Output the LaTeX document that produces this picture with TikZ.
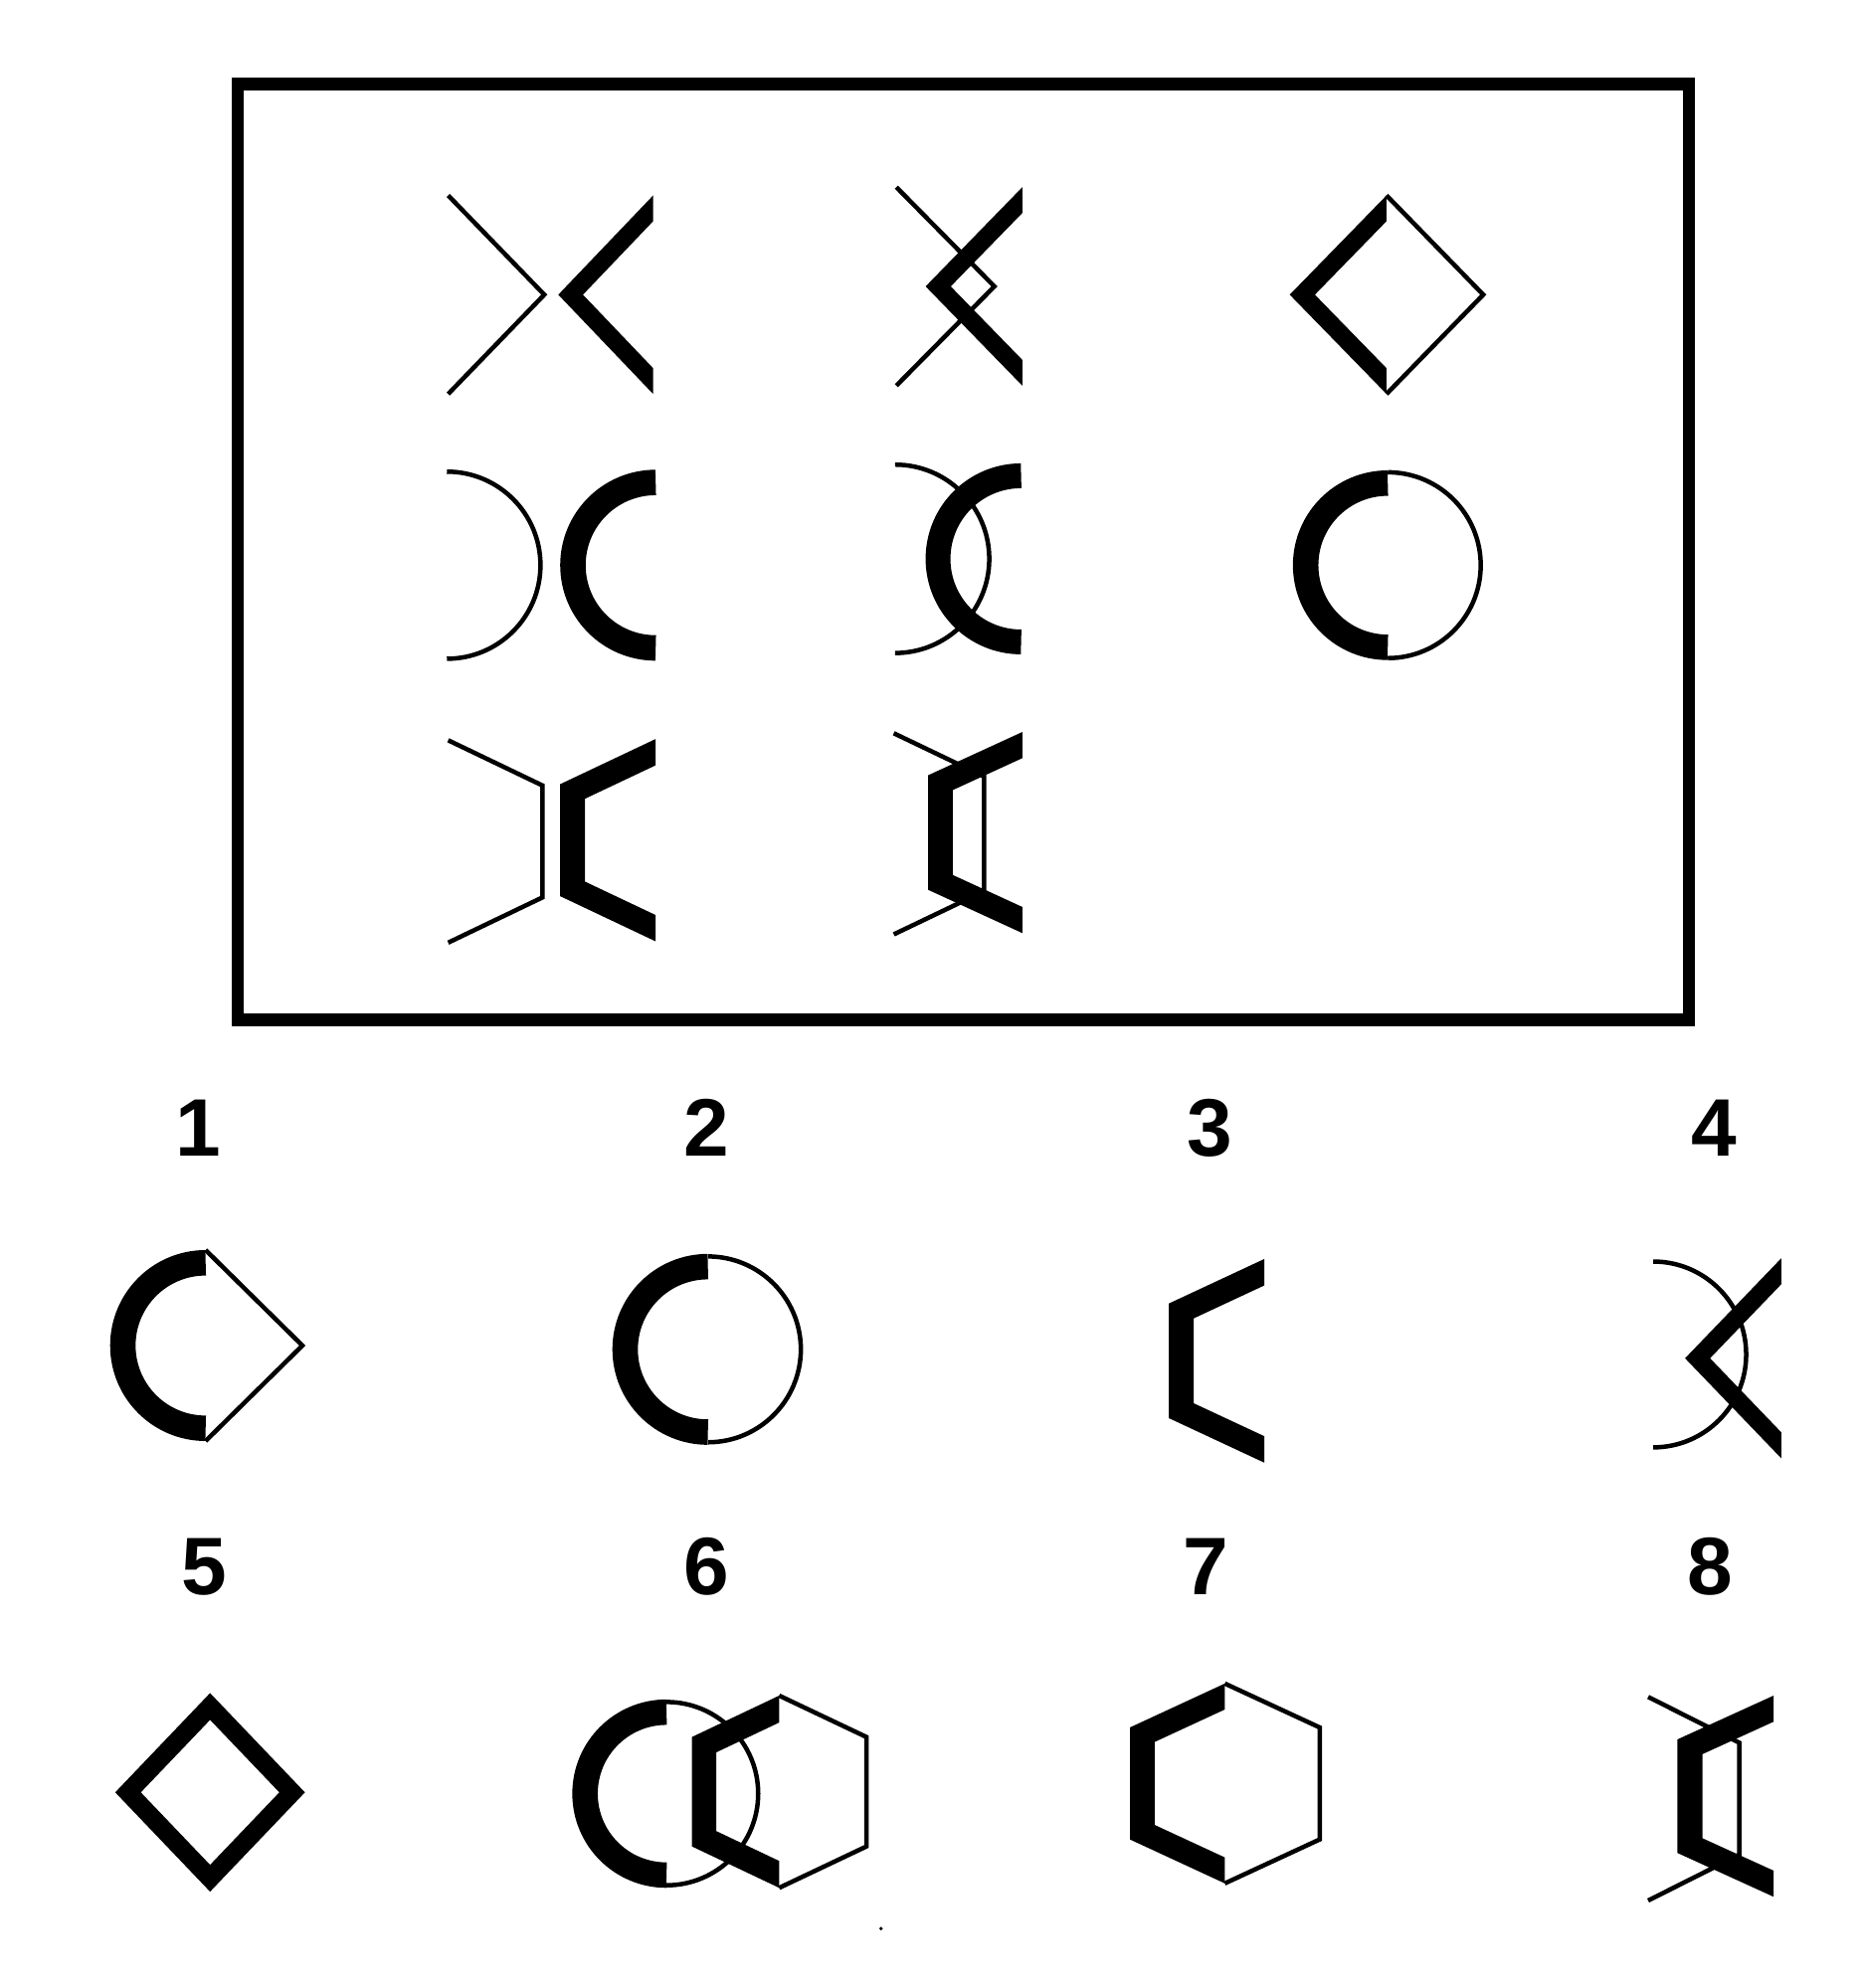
\documentclass[tikz,border=0pt]{standalone}
\usepackage{fontspec}
\setmainfont{Liberation Sans}
\newcommand\dmdband[5]{% cx cy a b k : left half band of a diamond
  \fill ({#1},{#2-#4}) -- ({#1-#3},{#2}) -- ({#1},{#2+#4}) --
     ({#1},{#2+#5*#4}) -- ({#1-#5*#3},{#2}) -- ({#1},{#2-#5*#4}) -- cycle;}
\newcommand\dmdthin[4]{% cx cy a b : right half of a diamond, thin
  \draw[fineline] ({#1},{#2-#4}) -- ({#1+#3},{#2}) -- ({#1},{#2+#4});}
\newcommand\cirband[4]{% cx cy R band : left half band of a circle
  \pgfmathsetmacro\rmid{#3-#4/2}\pgfmathsetmacro\lwid{#4*1.28}%
  \draw[line width=\lwid pt] ({#1},{#2+\rmid}) arc[start angle=90,end angle=270,radius=\rmid];}
\newcommand\cirthin[3]{% cx cy r : right half of a circle, thin
  \draw[fineline] ({#1},{#2-#3}) arc[start angle=-90,end angle=90,radius=#3];}
\newcommand\hexband[6]{% cx cy a h j k : left half band of a hexagon
  \fill ({#1},{#2-#4}) -- ({#1-#3},{#2-#5}) -- ({#1-#3},{#2+#5}) -- ({#1},{#2+#4}) --
   ({#1},{#2+#6*#4}) -- ({#1-#6*#3},{#2+#6*#5}) -- ({#1-#6*#3},{#2-#6*#5}) -- ({#1},{#2-#6*#4}) -- cycle;}
\newcommand\hexthin[5]{% cx cy a h j : right half of a hexagon, thin
  \draw[fineline] ({#1},{#2-#4}) -- ({#1+#3},{#2-#5}) -- ({#1+#3},{#2+#5}) -- ({#1},{#2+#4});}
\begin{document}
\begin{tikzpicture}[x=1.28pt,y=-1.28pt,
  fineline/.style={line width=4.5pt,line join=miter,miter limit=10},
  framebox/.style={line width=12.3pt},
  digit/.style={font=\fontsize{82}{82}\selectfont\bfseries,inner sep=0pt}]
\useasboundingbox[fill=white] (0,0) rectangle (1462.5,1561.7);
% frame
\draw[framebox] (186.6,66.0) rectangle (1326.5,801.2);
% row 1
\dmdthin{352}{231.5}{75.5}{78}
\dmdband{513}{231.5}{74.5}{78}{0.74}
\dmdthin{704}{225}{77}{78}
\dmdband{803}{225}{76}{78}{0.74}
\dmdthin{1089}{231.5}{76}{78}
\dmdband{1089}{231.5}{76}{78}{0.74}
% row 2
\cirthin{351}{444}{73.5}
\cirband{515}{444}{75}{20}
\cirthin{703}{439}{74}
\cirband{802}{439}{75}{19.5}
\cirthin{1090}{444}{73}
\cirband{1090}{444}{74.5}{20}
% row 3
\hexthin{352}{661}{74}{79.5}{44}
\hexband{515}{660}{75}{79.5}{44}{0.74}
\hexthin{702}{655}{71}{79}{45}
\hexband{803}{654}{74}{79}{45}{0.74}
% labels
\node[digit] (l1) at (156,886) {1};
\node[digit] (l2) at (555,886) {2};
\node[digit] (l3) at (950,886) {3};
\node[digit] (l4) at (1346,886) {4};
\node[digit] (l5) at (160,1231) {5};
\node[digit] (l6) at (555,1231) {6};
\node[digit] (l7) at (947,1231) {7};
\node[digit] (l8) at (1343,1231) {8};
% option 1
\cirband{161.5}{1057}{75}{20}
\dmdthin{161.5}{1057}{76}{75}
% option 2
\cirthin{556}{1060}{73}
\cirband{556}{1060}{75}{20}
% option 3
\hexband{993}{1069}{75}{80}{45}{0.74}
% option 4
\cirthin{1298.5}{1064}{73}
\dmdband{1399}{1067}{75.5}{78.5}{0.74}
% option 5
\fill[even odd rule] (165,1330) -- (90.5,1408) -- (165,1486) -- (239.5,1408) -- cycle
  (165,{1408-0.73*78}) -- ({165-0.73*74.5},1408) -- (165,{1408+0.73*78}) -- ({165+0.73*74.5},1408) -- cycle;
% option 6
\cirthin{523.5}{1409}{72}
\cirband{523.5}{1409}{74}{20}
\hexthin{612}{1407.5}{68.5}{75.5}{43}
\hexband{612}{1407.5}{68.5}{75.5}{43}{0.72}
% option 7
\hexthin{962}{1401}{74.5}{78.5}{44}
\hexband{962}{1401}{74.5}{78.5}{44}{0.74}
% option 8
\hexthin{1294.5}{1413}{71.5}{80}{44}
\hexband{1393}{1411}{75.5}{79}{44.6}{0.74}
% speck
\fill (692,1515) circle[radius=1.5];
\end{tikzpicture}
\end{document}
